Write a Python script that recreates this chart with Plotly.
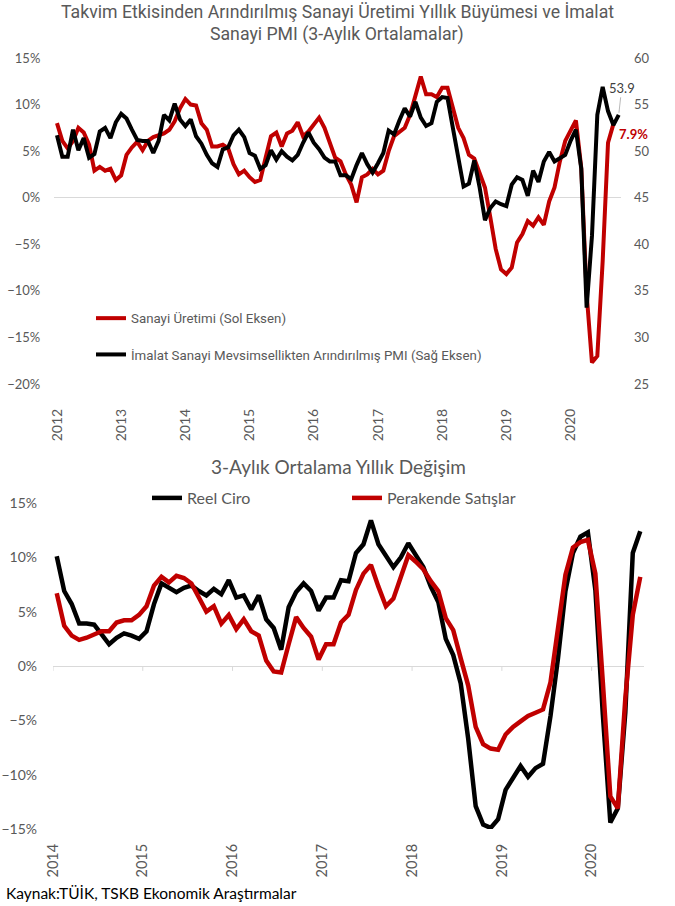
import plotly.graph_objects as go

# ---------------- Top chart data (monthly, Jan 2012 onward) ----------------
top_years = ["2012", "2013", "2014", "2015", "2016", "2017", "2018", "2019", "2020"]

sanayi_uretimi = [
    8.0, 6.1, 5.3, 6.1, 7.5, 7.0, 5.7, 2.9, 3.3, 2.9, 3.1, 1.9,
    2.4, 4.6, 5.4, 6.0, 5.1, 6.1, 6.5, 6.7, 6.9, 7.3, 8.2, 9.6,
    10.6, 10.0, 9.9, 8.0, 7.3, 5.5, 5.5, 5.7, 5.3, 3.6, 2.5, 2.9,
    2.2, 1.7, 1.9, 4.3, 6.6, 7.0, 5.5, 6.9, 7.2, 8.1, 6.6, 7.1,
    7.9, 8.6, 7.5, 5.9, 4.3, 3.9, 2.5, 1.4, -0.5, 2.2, 2.5, 3.1,
    2.5, 2.9, 5.0, 6.6, 7.0, 7.5, 8.9, 10.9, 13.0, 11.1, 11.1, 10.8,
    11.8, 11.8, 9.6, 7.5, 6.4, 4.6, 4.2, 2.7, 1.1, -2.1, -5.5, -7.7,
    -8.2, -7.5, -4.8, -3.9, -2.5, -3.0, -2.1, -2.9, -0.4, 1.1, 3.9, 6.1,
    7.3, 8.3, 3.2, -10.3, -17.7, -17.0, -6.8, 5.9, 7.9,
]

imalat_pmi = [
    51.7, 49.4, 49.4, 52.3, 50.1, 51.4, 49.3, 49.7, 52.1, 52.5, 51.4, 53.1,
    54.0, 53.5, 52.3, 51.2, 51.1, 51.1, 49.8, 51.1, 53.9, 53.3, 55.1, 53.4,
    52.7, 53.4, 51.6, 50.8, 49.6, 48.7, 48.3, 50.2, 50.4, 51.7, 52.3, 51.5,
    49.8, 49.5, 48.1, 48.5, 50.1, 49.1, 50.0, 49.4, 49.0, 49.6, 50.9, 52.0,
    50.9, 50.2, 49.3, 48.9, 48.9, 47.4, 47.4, 47.0, 48.5, 49.8, 48.6, 47.7,
    48.7, 49.8, 52.2, 51.8, 53.3, 54.6, 53.7, 55.3, 53.6, 52.7, 53.0, 55.3,
    55.8, 55.7, 52.5, 49.3, 46.2, 46.5, 49.0, 46.1, 42.6, 43.9, 44.6, 44.3,
    44.1, 46.4, 47.2, 46.9, 45.2, 47.9, 46.7, 48.9, 49.9, 48.9, 49.2, 49.6,
    51.1, 52.3, 48.1, 33.2, 40.9, 53.9, 56.9, 54.3, 52.8, 53.9,
]

# ---------------- Bottom chart data (monthly, Jan 2014 onward) ----------------
bottom_years = ["2014", "2015", "2016", "2017", "2018", "2019", "2020"]

reel_ciro = [
    10.1, 6.9, 5.7, 3.9, 3.9, 3.8, 2.9, 2.0, 2.6, 3.0, 2.8, 2.5,
    3.2, 5.7, 7.6, 7.2, 6.8, 7.2, 7.4, 6.9, 6.5, 7.1, 6.6, 7.9,
    6.3, 6.5, 5.2, 6.5, 4.3, 3.5, 1.5, 5.4, 6.8, 7.6, 6.9, 5.1,
    6.3, 6.3, 7.9, 7.8, 10.4, 11.2, 13.4, 11.2, 10.2, 9.1, 10.0, 11.3,
    10.2, 9.1, 7.3, 5.9, 2.5, 1.0, -1.6, -6.7, -12.9, -14.6, -14.9, -14.1,
    -11.4, -10.3, -9.2, -10.2, -9.4, -9.0, -4.6, 0.7, 6.9, 10.4, 11.9, 12.3,
    7.0, -4.5, -14.4, -13.1, -4.3, 10.4, 12.4,
]

perakende_satislar = [
    6.7, 3.7, 2.8, 2.4, 2.6, 2.9, 3.2, 3.2, 4.0, 4.2, 4.2, 4.7,
    5.5, 7.4, 8.2, 7.7, 8.3, 8.1, 7.6, 6.3, 5.0, 5.5, 3.9, 4.7,
    3.4, 4.3, 3.2, 2.8, 0.5, -0.5, -0.6, 2.0, 4.5, 3.5, 2.7, 0.6,
    2.0, 2.0, 4.0, 4.7, 7.0, 8.5, 9.3, 7.3, 5.5, 6.2, 8.1, 10.2,
    9.6, 8.9, 7.8, 6.9, 4.4, 3.3, 0.7, -1.8, -5.6, -7.2, -7.6, -7.7,
    -6.3, -5.6, -5.1, -4.6, -4.3, -4.0, -1.5, 3.5, 8.4, 10.9, 11.4, 11.6,
    8.5, -1.5, -12.0, -13.1, -3.0, 4.7, 8.2,
]

RED = "#C00000"
BLACK = "#000000"
GREY = "#595959"
W, H = 675, 906
NARROW = "Liberation Sans Narrow, Roboto, Lato, sans-serif"
BODY = "Lato, Open Sans, sans-serif"

x_top = list(range(len(imalat_pmi)))
x_bot = list(range(len(reel_ciro)))

fig = go.Figure()

fig.add_trace(go.Scatter(
    x=x_top[:len(sanayi_uretimi)], y=sanayi_uretimi, mode="lines",
    name="Sanayi Üretimi (Sol Eksen)", line=dict(color=RED, width=4),
    xaxis="x", yaxis="y", legend="legend", legendgroup="a"))
fig.add_trace(go.Scatter(
    x=x_top, y=imalat_pmi, mode="lines",
    name="İmalat Sanayi Mevsimsellikten Arındırılmış PMI (Sağ Eksen)",
    line=dict(color=BLACK, width=4),
    xaxis="x", yaxis="y2", legend="legend", legendgroup="b"))

fig.add_trace(go.Scatter(
    x=x_bot, y=reel_ciro, mode="lines", name="Reel Ciro",
    line=dict(color=BLACK, width=4.5), xaxis="x2", yaxis="y3", legend="legend2"))
fig.add_trace(go.Scatter(
    x=x_bot, y=perakende_satislar, mode="lines", name="Perakende Satışlar",
    line=dict(color=RED, width=4.5), xaxis="x2", yaxis="y3", legend="legend2"))

def px_x(p):
    return p / W

def px_y(p):
    return 1 - p / H

top_labelvals = [12 * k for k in range(len(top_years))]
bot_tickvals = [-0.5 + 12 * k for k in range(len(bottom_years))]

common = dict(showgrid=False, showline=False, automargin=False)

fig.update_layout(
    width=W, height=H,
    margin=dict(l=0, r=0, t=0, b=0, autoexpand=False),
    paper_bgcolor="white", plot_bgcolor="white",
    font=dict(family=BODY, color=GREY, size=13),
    xaxis=dict(domain=[px_x(54.3), px_x(621.4)], range=[-0.5, 105.5], anchor="y",
               tickvals=top_labelvals, ticktext=top_years, tickangle=-90,
               zeroline=False, ticks="", ticklabelstandoff=21,
               tickfont=dict(size=14, color=GREY), **common),
    yaxis=dict(domain=[px_y(384), px_y(58)], range=[-20, 15], dtick=5, ticksuffix="%",
               anchor="x", zeroline=True, zerolinecolor="#D9D9D9", zerolinewidth=1,
               ticks="", ticklabelstandoff=13, tickfont=dict(size=13, color=GREY), **common),
    yaxis2=dict(overlaying="y", side="right", range=[25, 60], dtick=5,
                anchor="free", position=px_x(633),
                zeroline=False, ticks="",
                tickfont=dict(size=13, color=GREY), **common),
    xaxis2=dict(domain=[px_x(53), px_x(644)], range=[-0.5, 78.5], anchor="y3",
                tickvals=bot_tickvals, ticktext=bottom_years, tickangle=-90,
                zeroline=False, ticks="", ticklabelstandoff=11,
                tickfont=dict(size=14.5, color=GREY), **common),
    yaxis3=dict(domain=[px_y(829), px_y(503)], range=[-15, 15], dtick=5, ticksuffix="%",
                anchor="x2", zeroline=True, zerolinecolor="#D9D9D9", zerolinewidth=1,
                ticks="", ticklabelstandoff=15, tickfont=dict(size=14, color=GREY), **common),
    legend=dict(x=px_x(91), y=px_y(303), xanchor="left", yanchor="top",
                orientation="v", bgcolor="rgba(0,0,0,0)", tracegroupgap=16,
                font=dict(family=NARROW, size=13.3, color=GREY)),
    legend2=dict(x=px_x(147), y=px_y(481), xanchor="left", yanchor="top",
                 orientation="h", bgcolor="rgba(0,0,0,0)",
                 entrywidth=155, entrywidthmode="pixels",
                 font=dict(family=BODY, size=16, color=GREY)),
    showlegend=True,
)

# year tick marks hanging from the zero line in the bottom chart
for tv in bot_tickvals:
    fig.add_shape(type="line", xref="x2", yref="y3", x0=tv, x1=tv, y0=0, y1=-0.45,
                  line=dict(color="#D9D9D9", width=1))

# titles
fig.add_annotation(xref="paper", yref="paper", x=px_x(337), y=px_y(12), showarrow=False,
                   text="Takvim Etkisinden Arındırılmış Sanayi Üretimi Yıllık Büyümesi ve İmalat",
                   font=dict(family=NARROW, size=17.7, color=GREY), xanchor="center", yanchor="middle")
fig.add_annotation(xref="paper", yref="paper", x=px_x(337), y=px_y(35), showarrow=False,
                   text="Sanayi PMI (3-Aylık Ortalamalar)",
                   font=dict(family=NARROW, size=17.7, color=GREY), xanchor="center", yanchor="middle")
fig.add_annotation(xref="paper", yref="paper", x=px_x(338), y=px_y(467), showarrow=False,
                   text="3-Aylık Ortalama Yıllık Değişim",
                   font=dict(family=BODY, size=19, color=GREY), xanchor="center", yanchor="middle")

# end-point labels
fig.add_annotation(xref="x", yref="y2", x=x_top[-1], y=imalat_pmi[-1],
                   text=f"{imalat_pmi[-1]:.1f}", showarrow=True, arrowhead=0,
                   arrowwidth=0.8, arrowcolor="#A6A6A6", ax=3, ay=-27, standoff=2,
                   font=dict(family=BODY, size=13, color="#404040"))
fig.add_annotation(xref="x", yref="y", x=len(sanayi_uretimi) - 1, y=sanayi_uretimi[-1],
                   text=f"<b>{sanayi_uretimi[-1]:.1f}%</b>", showarrow=False,
                   xshift=20, yshift=-10,
                   font=dict(family=BODY, size=13, color=RED))

# source
fig.add_annotation(xref="paper", yref="paper", x=px_x(4), y=px_y(893), showarrow=False,
                   text="Kaynak:TÜİK, TSKB Ekonomik Araştırmalar",
                   font=dict(family=BODY, size=15.5, color="#000000"),
                   xanchor="left", yanchor="middle")

fig.write_html("out.html", config={"displayModeBar": False},
               post_script="document.body.style.margin='0px';document.body.style.padding='0px';")
